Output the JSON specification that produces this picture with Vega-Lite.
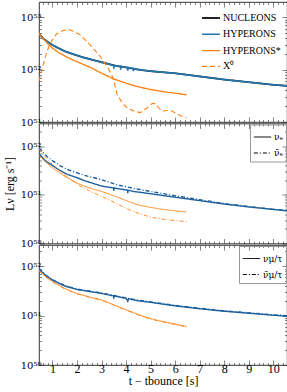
{
  "$schema": "https://vega.github.io/schema/vega-lite/v6.json",
  "padding": {"left": 2, "top": 1, "right": 0, "bottom": 0},
  "autosize": {"type": "pad"},
  "spacing": 1.5,
  "bounds": "flush",
  "resolve": {"scale": {"color": "independent", "strokeDash": "independent", "strokeWidth": "independent"}, "legend": {"color": "independent", "strokeDash": "independent", "strokeWidth": "independent"}},
  "config": {
    "font": "Liberation Serif",
    "view": {"stroke": "black", "strokeWidth": 0.8},
    "axis": {"domain": false, "grid": false, "labelFont": "Liberation Serif", "labelFontSize": 12, "labelColor": "black", "tickColor": "#333", "tickWidth": 0.6, "titleFont": "Liberation Serif", "titleFontSize": 12, "titleFontWeight": "normal", "titleColor": "black", "labelOverlap": false, "labelFlush": false},
    "legend": {"labelFont": "Liberation Serif", "labelColor": "black"}
  },
  "datasets": {
    "p1": [
      {"t": 0.45, "L": 4.9e52, "s": "NUCLEONS"}, {"t": 0.6, "L": 3.98e52, "s": "NUCLEONS"}, {"t": 0.8, "L": 3.39e52, "s": "NUCLEONS"}, {"t": 1.0, "L": 2.95e52, "s": "NUCLEONS"}, {"t": 1.2, "L": 2.63e52, "s": "NUCLEONS"}, {"t": 1.5, "L": 2.24e52, "s": "NUCLEONS"}, {"t": 1.8, "L": 2.0e52, "s": "NUCLEONS"}, {"t": 2.2, "L": 1.74e52, "s": "NUCLEONS"}, {"t": 2.6, "L": 1.55e52, "s": "NUCLEONS"}, {"t": 3.0, "L": 1.38e52, "s": "NUCLEONS"}, {"t": 3.5, "L": 1.2e52, "s": "NUCLEONS"}, {"t": 4.0, "L": 1.1e52, "s": "NUCLEONS"}, {"t": 4.5, "L": 1.0e52, "s": "NUCLEONS"}, {"t": 5.0, "L": 9.33e51, "s": "NUCLEONS"}, {"t": 6.0, "L": 8.51e51, "s": "NUCLEONS"}, {"t": 7.0, "L": 7.41e51, "s": "NUCLEONS"}, {"t": 8.0, "L": 6.46e51, "s": "NUCLEONS"}, {"t": 9.0, "L": 5.75e51, "s": "NUCLEONS"}, {"t": 10.0, "L": 5.13e51, "s": "NUCLEONS"}, {"t": 10.56, "L": 4.9e51, "s": "NUCLEONS"},
      {"t": 0.45, "L": 4.9e52, "s": "HYPERONS"}, {"t": 0.6, "L": 3.98e52, "s": "HYPERONS"}, {"t": 0.8, "L": 3.39e52, "s": "HYPERONS"}, {"t": 1.0, "L": 2.95e52, "s": "HYPERONS"}, {"t": 1.2, "L": 2.63e52, "s": "HYPERONS"}, {"t": 1.5, "L": 2.24e52, "s": "HYPERONS"}, {"t": 1.8, "L": 2.0e52, "s": "HYPERONS"}, {"t": 2.2, "L": 1.74e52, "s": "HYPERONS"}, {"t": 2.6, "L": 1.55e52, "s": "HYPERONS"}, {"t": 3.0, "L": 1.38e52, "s": "HYPERONS"}, {"t": 3.49, "L": 1.2e52, "s": "HYPERONS"}, {"t": 3.5, "L": 1.04e52, "s": "HYPERONS"}, {"t": 3.51, "L": 1.2e52, "s": "HYPERONS"}, {"t": 3.77, "L": 1.15e52, "s": "HYPERONS"}, {"t": 3.78, "L": 1.0e52, "s": "HYPERONS"}, {"t": 3.79, "L": 1.15e52, "s": "HYPERONS"}, {"t": 4.06, "L": 1.09e52, "s": "HYPERONS"}, {"t": 4.07, "L": 9.5e51, "s": "HYPERONS"}, {"t": 4.08, "L": 1.09e52, "s": "HYPERONS"}, {"t": 4.29, "L": 1.05e52, "s": "HYPERONS"}, {"t": 4.3, "L": 9.3e51, "s": "HYPERONS"}, {"t": 4.31, "L": 1.05e52, "s": "HYPERONS"}, {"t": 4.5, "L": 1.0e52, "s": "HYPERONS"}, {"t": 5.0, "L": 9.33e51, "s": "HYPERONS"}, {"t": 6.0, "L": 8.51e51, "s": "HYPERONS"}, {"t": 7.0, "L": 7.41e51, "s": "HYPERONS"}, {"t": 8.0, "L": 6.46e51, "s": "HYPERONS"}, {"t": 9.0, "L": 5.75e51, "s": "HYPERONS"}, {"t": 10.0, "L": 5.13e51, "s": "HYPERONS"}, {"t": 10.56, "L": 4.9e51, "s": "HYPERONS"},
      {"t": 0.45, "L": 4.9e52, "s": "HYPERONS*"}, {"t": 0.6, "L": 3.98e52, "s": "HYPERONS*"}, {"t": 0.8, "L": 3.16e52, "s": "HYPERONS*"}, {"t": 1.0, "L": 2.57e52, "s": "HYPERONS*"}, {"t": 1.2, "L": 2.19e52, "s": "HYPERONS*"}, {"t": 1.5, "L": 1.82e52, "s": "HYPERONS*"}, {"t": 1.8, "L": 1.55e52, "s": "HYPERONS*"}, {"t": 2.2, "L": 1.29e52, "s": "HYPERONS*"}, {"t": 2.6, "L": 1.07e52, "s": "HYPERONS*"}, {"t": 3.0, "L": 8.51e51, "s": "HYPERONS*"}, {"t": 3.5, "L": 6.61e51, "s": "HYPERONS*"}, {"t": 4.0, "L": 5.5e51, "s": "HYPERONS*"}, {"t": 4.5, "L": 4.68e51, "s": "HYPERONS*"}, {"t": 5.0, "L": 4.17e51, "s": "HYPERONS*"}, {"t": 5.5, "L": 3.8e51, "s": "HYPERONS*"}, {"t": 6.0, "L": 3.55e51, "s": "HYPERONS*"}, {"t": 6.46, "L": 3.31e51, "s": "HYPERONS*"},
      {"t": 0.45, "L": 6.03e51, "s": "X⁰"}, {"t": 0.69, "L": 1.66e52, "s": "X⁰"}, {"t": 0.89, "L": 3.09e52, "s": "X⁰"}, {"t": 1.16, "L": 4.79e52, "s": "X⁰"}, {"t": 1.45, "L": 5.62e52, "s": "X⁰"}, {"t": 1.7, "L": 5.75e52, "s": "X⁰"}, {"t": 2.11, "L": 4.68e52, "s": "X⁰"}, {"t": 2.52, "L": 3.02e52, "s": "X⁰"}, {"t": 2.93, "L": 1.82e52, "s": "X⁰"}, {"t": 3.27, "L": 1.07e52, "s": "X⁰"}, {"t": 3.47, "L": 6.92e51, "s": "X⁰"}, {"t": 3.63, "L": 3.39e51, "s": "X⁰"}, {"t": 3.84, "L": 2.34e51, "s": "X⁰"}, {"t": 4.04, "L": 1.86e51, "s": "X⁰"}, {"t": 4.31, "L": 1.62e51, "s": "X⁰"}, {"t": 4.58, "L": 1.51e51, "s": "X⁰"}, {"t": 4.86, "L": 1.86e51, "s": "X⁰"}, {"t": 5.06, "L": 2.24e51, "s": "X⁰"}, {"t": 5.19, "L": 2.24e51, "s": "X⁰"}, {"t": 5.33, "L": 1.86e51, "s": "X⁰"}, {"t": 5.47, "L": 1.62e51, "s": "X⁰"}, {"t": 5.67, "L": 1.66e51, "s": "X⁰"}, {"t": 5.87, "L": 1.62e51, "s": "X⁰"}, {"t": 6.08, "L": 1.41e51, "s": "X⁰"}, {"t": 6.28, "L": 1.29e51, "s": "X⁰"}, {"t": 6.46, "L": 1.2e51, "s": "X⁰"}
    ],
    "p2": [
      {"t": 0.45, "L": 6.92e51, "m": "HYPERONS", "f": "νₑ"}, {"t": 0.7, "L": 5.01e51, "m": "HYPERONS", "f": "νₑ"}, {"t": 1.0, "L": 3.98e51, "m": "HYPERONS", "f": "νₑ"}, {"t": 1.3, "L": 3.16e51, "m": "HYPERONS", "f": "νₑ"}, {"t": 1.6, "L": 2.63e51, "m": "HYPERONS", "f": "νₑ"}, {"t": 2.0, "L": 2.24e51, "m": "HYPERONS", "f": "νₑ"}, {"t": 2.3, "L": 1.95e51, "m": "HYPERONS", "f": "νₑ"}, {"t": 3.0, "L": 1.51e51, "m": "HYPERONS", "f": "νₑ"}, {"t": 3.49, "L": 1.38e51, "m": "HYPERONS", "f": "νₑ"}, {"t": 3.5, "L": 1.2e51, "m": "HYPERONS", "f": "νₑ"}, {"t": 3.51, "L": 1.38e51, "m": "HYPERONS", "f": "νₑ"}, {"t": 3.6, "L": 1.35e51, "m": "HYPERONS", "f": "νₑ"}, {"t": 4.06, "L": 1.24e51, "m": "HYPERONS", "f": "νₑ"}, {"t": 4.07, "L": 1.08e51, "m": "HYPERONS", "f": "νₑ"}, {"t": 4.08, "L": 1.24e51, "m": "HYPERONS", "f": "νₑ"}, {"t": 4.3, "L": 1.17e51, "m": "HYPERONS", "f": "νₑ"}, {"t": 5.0, "L": 1.05e51, "m": "HYPERONS", "f": "νₑ"}, {"t": 6.0, "L": 8.91e50, "m": "HYPERONS", "f": "νₑ"}, {"t": 7.0, "L": 7.59e50, "m": "HYPERONS", "f": "νₑ"}, {"t": 8.0, "L": 6.46e50, "m": "HYPERONS", "f": "νₑ"}, {"t": 9.0, "L": 5.62e50, "m": "HYPERONS", "f": "νₑ"}, {"t": 10.0, "L": 5.01e50, "m": "HYPERONS", "f": "νₑ"}, {"t": 10.56, "L": 4.68e50, "m": "HYPERONS", "f": "νₑ"},
      {"t": 0.45, "L": 9.12e51, "m": "HYPERONS", "f": "ν̄ₑ"}, {"t": 0.7, "L": 6.61e51, "m": "HYPERONS", "f": "ν̄ₑ"}, {"t": 1.0, "L": 5.01e51, "m": "HYPERONS", "f": "ν̄ₑ"}, {"t": 1.3, "L": 3.98e51, "m": "HYPERONS", "f": "ν̄ₑ"}, {"t": 1.6, "L": 3.31e51, "m": "HYPERONS", "f": "ν̄ₑ"}, {"t": 2.0, "L": 2.82e51, "m": "HYPERONS", "f": "ν̄ₑ"}, {"t": 2.3, "L": 2.51e51, "m": "HYPERONS", "f": "ν̄ₑ"}, {"t": 3.0, "L": 2.04e51, "m": "HYPERONS", "f": "ν̄ₑ"}, {"t": 3.6, "L": 1.62e51, "m": "HYPERONS", "f": "ν̄ₑ"}, {"t": 4.3, "L": 1.35e51, "m": "HYPERONS", "f": "ν̄ₑ"}, {"t": 5.0, "L": 1.17e51, "m": "HYPERONS", "f": "ν̄ₑ"}, {"t": 6.0, "L": 9.55e50, "m": "HYPERONS", "f": "ν̄ₑ"}, {"t": 7.0, "L": 7.94e50, "m": "HYPERONS", "f": "ν̄ₑ"}, {"t": 8.0, "L": 6.61e50, "m": "HYPERONS", "f": "ν̄ₑ"}, {"t": 9.0, "L": 5.75e50, "m": "HYPERONS", "f": "ν̄ₑ"}, {"t": 10.0, "L": 5.01e50, "m": "HYPERONS", "f": "ν̄ₑ"}, {"t": 10.56, "L": 4.79e50, "m": "HYPERONS", "f": "ν̄ₑ"},
      {"t": 0.45, "L": 6.46e51, "m": "HYPERONS*", "f": "νₑ"}, {"t": 0.7, "L": 4.79e51, "m": "HYPERONS*", "f": "νₑ"}, {"t": 1.0, "L": 3.55e51, "m": "HYPERONS*", "f": "νₑ"}, {"t": 1.5, "L": 2.4e51, "m": "HYPERONS*", "f": "νₑ"}, {"t": 2.0, "L": 1.74e51, "m": "HYPERONS*", "f": "νₑ"}, {"t": 2.5, "L": 1.38e51, "m": "HYPERONS*", "f": "νₑ"}, {"t": 3.0, "L": 1.17e51, "m": "HYPERONS*", "f": "νₑ"}, {"t": 3.5, "L": 9.55e50, "m": "HYPERONS*", "f": "νₑ"}, {"t": 4.0, "L": 7.59e50, "m": "HYPERONS*", "f": "νₑ"}, {"t": 4.5, "L": 6.17e50, "m": "HYPERONS*", "f": "νₑ"}, {"t": 5.0, "L": 5.5e50, "m": "HYPERONS*", "f": "νₑ"}, {"t": 5.5, "L": 5.01e50, "m": "HYPERONS*", "f": "νₑ"}, {"t": 6.0, "L": 4.68e50, "m": "HYPERONS*", "f": "νₑ"}, {"t": 6.46, "L": 4.47e50, "m": "HYPERONS*", "f": "νₑ"},
      {"t": 0.45, "L": 8.71e51, "m": "HYPERONS*", "f": "ν̄ₑ"}, {"t": 0.7, "L": 6.03e51, "m": "HYPERONS*", "f": "ν̄ₑ"}, {"t": 1.0, "L": 4.17e51, "m": "HYPERONS*", "f": "ν̄ₑ"}, {"t": 1.5, "L": 2.51e51, "m": "HYPERONS*", "f": "ν̄ₑ"}, {"t": 2.0, "L": 1.66e51, "m": "HYPERONS*", "f": "ν̄ₑ"}, {"t": 2.5, "L": 1.2e51, "m": "HYPERONS*", "f": "ν̄ₑ"}, {"t": 3.0, "L": 9.33e50, "m": "HYPERONS*", "f": "ν̄ₑ"}, {"t": 3.5, "L": 7.08e50, "m": "HYPERONS*", "f": "ν̄ₑ"}, {"t": 4.0, "L": 5.25e50, "m": "HYPERONS*", "f": "ν̄ₑ"}, {"t": 4.5, "L": 4.17e50, "m": "HYPERONS*", "f": "ν̄ₑ"}, {"t": 5.0, "L": 3.47e50, "m": "HYPERONS*", "f": "ν̄ₑ"}, {"t": 5.5, "L": 3.16e50, "m": "HYPERONS*", "f": "ν̄ₑ"}, {"t": 6.0, "L": 2.95e50, "m": "HYPERONS*", "f": "ν̄ₑ"}, {"t": 6.46, "L": 2.82e50, "m": "HYPERONS*", "f": "ν̄ₑ"}
    ],
    "p3": [
      {"t": 0.45, "L": 8.91e51, "m": "HYPERONS", "f": "νμ/τ"}, {"t": 0.7, "L": 6.61e51, "m": "HYPERONS", "f": "νμ/τ"}, {"t": 1.0, "L": 5.25e51, "m": "HYPERONS", "f": "νμ/τ"}, {"t": 1.5, "L": 3.98e51, "m": "HYPERONS", "f": "νμ/τ"}, {"t": 2.0, "L": 3.39e51, "m": "HYPERONS", "f": "νμ/τ"}, {"t": 2.5, "L": 3.09e51, "m": "HYPERONS", "f": "νμ/τ"}, {"t": 3.0, "L": 2.82e51, "m": "HYPERONS", "f": "νμ/τ"}, {"t": 3.49, "L": 2.51e51, "m": "HYPERONS", "f": "νμ/τ"}, {"t": 3.5, "L": 2.2e51, "m": "HYPERONS", "f": "νμ/τ"}, {"t": 3.51, "L": 2.51e51, "m": "HYPERONS", "f": "νμ/τ"}, {"t": 4.0, "L": 2.24e51, "m": "HYPERONS", "f": "νμ/τ"}, {"t": 4.07, "L": 1.95e51, "m": "HYPERONS", "f": "νμ/τ"}, {"t": 4.1, "L": 2.2e51, "m": "HYPERONS", "f": "νμ/τ"}, {"t": 4.5, "L": 2.0e51, "m": "HYPERONS", "f": "νμ/τ"}, {"t": 5.0, "L": 1.86e51, "m": "HYPERONS", "f": "νμ/τ"}, {"t": 6.0, "L": 1.58e51, "m": "HYPERONS", "f": "νμ/τ"}, {"t": 7.0, "L": 1.38e51, "m": "HYPERONS", "f": "νμ/τ"}, {"t": 8.0, "L": 1.23e51, "m": "HYPERONS", "f": "νμ/τ"}, {"t": 9.0, "L": 1.12e51, "m": "HYPERONS", "f": "νμ/τ"}, {"t": 10.0, "L": 1.02e51, "m": "HYPERONS", "f": "νμ/τ"}, {"t": 10.56, "L": 9.77e50, "m": "HYPERONS", "f": "νμ/τ"},
      {"t": 0.45, "L": 9.1e51, "m": "HYPERONS", "f": "ν̄μ/τ"}, {"t": 0.7, "L": 6.75e51, "m": "HYPERONS", "f": "ν̄μ/τ"}, {"t": 1.0, "L": 5.36e51, "m": "HYPERONS", "f": "ν̄μ/τ"}, {"t": 1.5, "L": 4.06e51, "m": "HYPERONS", "f": "ν̄μ/τ"}, {"t": 2.0, "L": 3.46e51, "m": "HYPERONS", "f": "ν̄μ/τ"}, {"t": 2.5, "L": 3.15e51, "m": "HYPERONS", "f": "ν̄μ/τ"}, {"t": 3.0, "L": 2.88e51, "m": "HYPERONS", "f": "ν̄μ/τ"}, {"t": 3.5, "L": 2.56e51, "m": "HYPERONS", "f": "ν̄μ/τ"}, {"t": 4.0, "L": 2.28e51, "m": "HYPERONS", "f": "ν̄μ/τ"}, {"t": 4.5, "L": 2.04e51, "m": "HYPERONS", "f": "ν̄μ/τ"}, {"t": 5.0, "L": 1.9e51, "m": "HYPERONS", "f": "ν̄μ/τ"}, {"t": 6.0, "L": 1.61e51, "m": "HYPERONS", "f": "ν̄μ/τ"}, {"t": 7.0, "L": 1.41e51, "m": "HYPERONS", "f": "ν̄μ/τ"}, {"t": 8.0, "L": 1.25e51, "m": "HYPERONS", "f": "ν̄μ/τ"}, {"t": 9.0, "L": 1.14e51, "m": "HYPERONS", "f": "ν̄μ/τ"}, {"t": 10.0, "L": 1.04e51, "m": "HYPERONS", "f": "ν̄μ/τ"}, {"t": 10.56, "L": 9.97e50, "m": "HYPERONS", "f": "ν̄μ/τ"},
      {"t": 0.45, "L": 8.32e51, "m": "HYPERONS*", "f": "νμ/τ"}, {"t": 0.7, "L": 6.31e51, "m": "HYPERONS*", "f": "νμ/τ"}, {"t": 1.0, "L": 4.9e51, "m": "HYPERONS*", "f": "νμ/τ"}, {"t": 1.5, "L": 3.55e51, "m": "HYPERONS*", "f": "νμ/τ"}, {"t": 2.0, "L": 2.82e51, "m": "HYPERONS*", "f": "νμ/τ"}, {"t": 2.5, "L": 2.4e51, "m": "HYPERONS*", "f": "νμ/τ"}, {"t": 3.0, "L": 2.09e51, "m": "HYPERONS*", "f": "νμ/τ"}, {"t": 3.5, "L": 1.66e51, "m": "HYPERONS*", "f": "νμ/τ"}, {"t": 4.0, "L": 1.32e51, "m": "HYPERONS*", "f": "νμ/τ"}, {"t": 4.5, "L": 1.05e51, "m": "HYPERONS*", "f": "νμ/τ"}, {"t": 5.0, "L": 8.71e50, "m": "HYPERONS*", "f": "νμ/τ"}, {"t": 5.5, "L": 7.59e50, "m": "HYPERONS*", "f": "νμ/τ"}, {"t": 6.0, "L": 6.76e50, "m": "HYPERONS*", "f": "νμ/τ"}, {"t": 6.46, "L": 6.03e50, "m": "HYPERONS*", "f": "νμ/τ"},
      {"t": 0.45, "L": 8.15e51, "m": "HYPERONS*", "f": "ν̄μ/τ"}, {"t": 0.7, "L": 6.18e51, "m": "HYPERONS*", "f": "ν̄μ/τ"}, {"t": 1.0, "L": 4.8e51, "m": "HYPERONS*", "f": "ν̄μ/τ"}, {"t": 1.5, "L": 3.48e51, "m": "HYPERONS*", "f": "ν̄μ/τ"}, {"t": 2.0, "L": 2.76e51, "m": "HYPERONS*", "f": "ν̄μ/τ"}, {"t": 2.5, "L": 2.35e51, "m": "HYPERONS*", "f": "ν̄μ/τ"}, {"t": 3.0, "L": 2.05e51, "m": "HYPERONS*", "f": "ν̄μ/τ"}, {"t": 3.5, "L": 1.63e51, "m": "HYPERONS*", "f": "ν̄μ/τ"}, {"t": 4.0, "L": 1.29e51, "m": "HYPERONS*", "f": "ν̄μ/τ"}, {"t": 4.5, "L": 1.03e51, "m": "HYPERONS*", "f": "ν̄μ/τ"}, {"t": 5.0, "L": 8.54e50, "m": "HYPERONS*", "f": "ν̄μ/τ"}, {"t": 5.5, "L": 7.44e50, "m": "HYPERONS*", "f": "ν̄μ/τ"}, {"t": 6.0, "L": 6.62e50, "m": "HYPERONS*", "f": "ν̄μ/τ"}, {"t": 6.46, "L": 5.91e50, "m": "HYPERONS*", "f": "ν̄μ/τ"}
    ]
  },
  "vconcat": [
    {
      "width": 248, "height": 120,
      "data": {"name": "p1"},
      "layer": [
        {
          "mark": {"type": "line", "clip": true},
          "encoding": {
            "x": {"field": "t", "type": "quantitative", "scale": {"domain": [0.45, 10.56], "nice": false, "zero": false},
              "axis": {"orient": "bottom", "title": null, "labels": false, "values": [0.6,0.8,1,1.2,1.4,1.6,1.8,2,2.2,2.4,2.6,2.8,3,3.2,3.4,3.6,3.8,4,4.2,4.4,4.6,4.8,5,5.2,5.4,5.6,5.8,6,6.2,6.4,6.6,6.8,7,7.2,7.4,7.6,7.8,8,8.2,8.4,8.6,8.8,9,9.2,9.4,9.6,9.8,10,10.2,10.4],
                "tickSize": {"condition": {"test": "abs(datum.value-round(datum.value))<0.01", "value": -5}, "value": -2.5}}},
            "y": {"field": "L", "type": "quantitative", "scale": {"type": "log", "domain": [1e51, 1.95e53], "nice": false},
              "axis": {"orient": "left", "title": null, "labelFont": "DejaVu Serif", "labelFontSize": 10, "values": [1e51,2e51,3e51,4e51,5e51,6e51,7e51,8e51,9e51,1e52,2e52,3e52,4e52,5e52,6e52,7e52,8e52,9e52,1e53],
                "labelExpr": "datum.value==1e53?'10⁵³':datum.value==1e52?'10⁵²':datum.value==1e51?'10⁵¹':''",
                "labelPadding": 3,
                "tickSize": {"condition": {"test": "datum.value==1e51||datum.value==1e52||datum.value==1e53", "value": -5}, "value": -2.5}}},
            "color": {"field": "s", "type": "nominal", "scale": {"domain": ["NUCLEONS", "HYPERONS", "HYPERONS*", "X⁰"], "range": ["#222222", "#1f77b4", "#ff7f0e", "#ff7f0e"]},
              "legend": {"title": null, "orient": "top-right", "offset": 6, "labelFontSize": 10, "symbolType": "stroke", "symbolSize": 320, "rowPadding": 1.3, "labelOffset": 2, "padding": 0}},
            "strokeDash": {"field": "s", "type": "nominal", "scale": {"domain": ["NUCLEONS", "HYPERONS", "HYPERONS*", "X⁰"], "range": [[1, 0], [1, 0], [1, 0], [5, 3]]},
              "legend": {"title": null, "orient": "top-right", "offset": 6, "labelFontSize": 10, "symbolType": "stroke", "symbolSize": 320, "rowPadding": 1.3, "labelOffset": 2, "padding": 0}},
            "strokeWidth": {"field": "s", "type": "nominal", "scale": {"domain": ["NUCLEONS", "HYPERONS", "HYPERONS*", "X⁰"], "range": [1.8, 1.1, 0.8, 1.5]},
              "legend": {"title": null, "orient": "top-right", "offset": 6, "labelFontSize": 10, "symbolType": "stroke", "symbolSize": 320, "rowPadding": 1.3, "labelOffset": 2, "padding": 0}}
          }
        },
        {
          "mark": {"type": "point", "opacity": 0},
          "encoding": {
            "x": {"field": "t", "type": "quantitative", "axis": {"orient": "top", "title": null, "labels": false, "values": [0.6,0.8,1,1.2,1.4,1.6,1.8,2,2.2,2.4,2.6,2.8,3,3.2,3.4,3.6,3.8,4,4.2,4.4,4.6,4.8,5,5.2,5.4,5.6,5.8,6,6.2,6.4,6.6,6.8,7,7.2,7.4,7.6,7.8,8,8.2,8.4,8.6,8.8,9,9.2,9.4,9.6,9.8,10,10.2,10.4],
                "tickSize": {"condition": {"test": "abs(datum.value-round(datum.value))<0.01", "value": -5}, "value": -2.5}}},
            "y": {"field": "L", "type": "quantitative", "axis": {"orient": "right", "title": null, "labels": false, "values": [1e51,2e51,3e51,4e51,5e51,6e51,7e51,8e51,9e51,1e52,2e52,3e52,4e52,5e52,6e52,7e52,8e52,9e52,1e53],
                "tickSize": {"condition": {"test": "datum.value==1e51||datum.value==1e52||datum.value==1e53", "value": -5}, "value": -2.5}}}
          }
        }
      ],
      "resolve": {"axis": {"x": "independent", "y": "independent"}}
    },
    {
      "width": 248, "height": 120,
      "data": {"name": "p2"},
      "layer": [
        {
          "mark": {"type": "line", "clip": true},
          "encoding": {
            "x": {"field": "t", "type": "quantitative", "scale": {"domain": [0.45, 10.56], "nice": false, "zero": false},
              "axis": {"orient": "bottom", "title": null, "labels": false, "values": [0.6,0.8,1,1.2,1.4,1.6,1.8,2,2.2,2.4,2.6,2.8,3,3.2,3.4,3.6,3.8,4,4.2,4.4,4.6,4.8,5,5.2,5.4,5.6,5.8,6,6.2,6.4,6.6,6.8,7,7.2,7.4,7.6,7.8,8,8.2,8.4,8.6,8.8,9,9.2,9.4,9.6,9.8,10,10.2,10.4],
                "tickSize": {"condition": {"test": "abs(datum.value-round(datum.value))<0.01", "value": -5}, "value": -2.5}}},
            "y": {"field": "L", "type": "quantitative", "scale": {"type": "log", "domain": [1e50, 2.9e52], "nice": false},
              "axis": {"orient": "left", "title": "Lν [erg s⁻¹]", "titlePadding": 4, "labelFont": "DejaVu Serif", "labelFontSize": 10, "values": [1e50,2e50,3e50,4e50,5e50,6e50,7e50,8e50,9e50,1e51,2e51,3e51,4e51,5e51,6e51,7e51,8e51,9e51,1e52,2e52],
                "labelExpr": "datum.value==1e52?'10⁵²':datum.value==1e51?'10⁵¹':datum.value==1e50?'10⁵⁰':''",
                "labelPadding": 3,
                "tickSize": {"condition": {"test": "datum.value==1e50||datum.value==1e51||datum.value==1e52", "value": -5}, "value": -2.5}}},
            "color": {"field": "m", "type": "nominal", "scale": {"domain": ["HYPERONS", "HYPERONS*"], "range": ["#1c5f9c", "#ff7f0e"]}, "legend": null},
            "strokeWidth": {"field": "m", "type": "nominal", "scale": {"domain": ["HYPERONS", "HYPERONS*"], "range": [1.4, 0.9]}, "legend": null},
            "strokeDash": {"field": "f", "type": "nominal", "scale": {"domain": ["νₑ", "ν̄ₑ"], "range": [[1, 0], [4, 2, 1, 2]]},
              "legend": {"title": null, "orient": "top-right", "offset": 1, "labelFont": "DejaVu Serif", "labelFontSize": 9, "symbolType": "stroke", "symbolSize": 300, "symbolStrokeColor": "black", "symbolStrokeWidth": 1, "strokeColor": "#999999", "padding": 3, "rowPadding": 1, "labelOffset": 2}}
          }
        },
        {
          "mark": {"type": "point", "opacity": 0},
          "encoding": {
            "x": {"field": "t", "type": "quantitative", "axis": {"orient": "top", "title": null, "labels": false, "values": [0.6,0.8,1,1.2,1.4,1.6,1.8,2,2.2,2.4,2.6,2.8,3,3.2,3.4,3.6,3.8,4,4.2,4.4,4.6,4.8,5,5.2,5.4,5.6,5.8,6,6.2,6.4,6.6,6.8,7,7.2,7.4,7.6,7.8,8,8.2,8.4,8.6,8.8,9,9.2,9.4,9.6,9.8,10,10.2,10.4],
                "tickSize": {"condition": {"test": "abs(datum.value-round(datum.value))<0.01", "value": -5}, "value": -2.5}}},
            "y": {"field": "L", "type": "quantitative", "axis": {"orient": "right", "title": null, "labels": false, "values": [1e50,2e50,3e50,4e50,5e50,6e50,7e50,8e50,9e50,1e51,2e51,3e51,4e51,5e51,6e51,7e51,8e51,9e51,1e52,2e52],
                "tickSize": {"condition": {"test": "datum.value==1e50||datum.value==1e51||datum.value==1e52", "value": -5}, "value": -2.5}}}
          }
        }
      ],
      "resolve": {"axis": {"x": "independent", "y": "independent"}}
    },
    {
      "width": 248, "height": 120,
      "data": {"name": "p3"},
      "layer": [
        {
          "mark": {"type": "line", "clip": true},
          "encoding": {
            "x": {"field": "t", "type": "quantitative", "scale": {"domain": [0.45, 10.56], "nice": false, "zero": false},
              "axis": {"orient": "bottom", "title": "t − tbounce [s]", "titlePadding": -1, "labelPadding": 3, "values": [0.6,0.8,1,1.2,1.4,1.6,1.8,2,2.2,2.4,2.6,2.8,3,3.2,3.4,3.6,3.8,4,4.2,4.4,4.6,4.8,5,5.2,5.4,5.6,5.8,6,6.2,6.4,6.6,6.8,7,7.2,7.4,7.6,7.8,8,8.2,8.4,8.6,8.8,9,9.2,9.4,9.6,9.8,10,10.2,10.4],
                "labelExpr": "abs(datum.value-round(datum.value))<0.01?format(datum.value,'d'):''",
                "tickSize": {"condition": {"test": "abs(datum.value-round(datum.value))<0.01", "value": -5}, "value": -2.5}}},
            "y": {"field": "L", "type": "quantitative", "scale": {"type": "log", "domain": [1e50, 2.7e52], "nice": false},
              "axis": {"orient": "left", "title": null, "labelFont": "DejaVu Serif", "labelFontSize": 10, "values": [1e50,2e50,3e50,4e50,5e50,6e50,7e50,8e50,9e50,1e51,2e51,3e51,4e51,5e51,6e51,7e51,8e51,9e51,1e52,2e52],
                "labelExpr": "datum.value==1e52?'10⁵²':datum.value==1e51?'10⁵¹':datum.value==1e50?'10⁵⁰':''",
                "labelPadding": 3,
                "tickSize": {"condition": {"test": "datum.value==1e50||datum.value==1e51||datum.value==1e52", "value": -5}, "value": -2.5}}},
            "color": {"field": "m", "type": "nominal", "scale": {"domain": ["HYPERONS", "HYPERONS*"], "range": ["#1c5f9c", "#ff7f0e"]}, "legend": null},
            "strokeWidth": {"field": "m", "type": "nominal", "scale": {"domain": ["HYPERONS", "HYPERONS*"], "range": [1.4, 0.9]}, "legend": null},
            "strokeDash": {"field": "f", "type": "nominal", "scale": {"domain": ["νμ/τ", "ν̄μ/τ"], "range": [[1, 0], [4, 2, 1, 2]]},
              "legend": {"title": null, "orient": "top-right", "offset": 1, "labelFont": "DejaVu Serif", "labelFontSize": 9, "symbolType": "stroke", "symbolSize": 300, "symbolStrokeColor": "black", "symbolStrokeWidth": 1, "strokeColor": "#999999", "padding": 3, "rowPadding": 1, "labelOffset": 2}}
          }
        },
        {
          "mark": {"type": "point", "opacity": 0},
          "encoding": {
            "x": {"field": "t", "type": "quantitative", "axis": {"orient": "top", "title": null, "labels": false, "values": [0.6,0.8,1,1.2,1.4,1.6,1.8,2,2.2,2.4,2.6,2.8,3,3.2,3.4,3.6,3.8,4,4.2,4.4,4.6,4.8,5,5.2,5.4,5.6,5.8,6,6.2,6.4,6.6,6.8,7,7.2,7.4,7.6,7.8,8,8.2,8.4,8.6,8.8,9,9.2,9.4,9.6,9.8,10,10.2,10.4],
                "tickSize": {"condition": {"test": "abs(datum.value-round(datum.value))<0.01", "value": -5}, "value": -2.5}}},
            "y": {"field": "L", "type": "quantitative", "axis": {"orient": "right", "title": null, "labels": false, "values": [1e50,2e50,3e50,4e50,5e50,6e50,7e50,8e50,9e50,1e51,2e51,3e51,4e51,5e51,6e51,7e51,8e51,9e51,1e52,2e52],
                "tickSize": {"condition": {"test": "datum.value==1e50||datum.value==1e51||datum.value==1e52", "value": -5}, "value": -2.5}}}
          }
        }
      ],
      "resolve": {"axis": {"x": "independent", "y": "independent"}}
    }
  ]
}
